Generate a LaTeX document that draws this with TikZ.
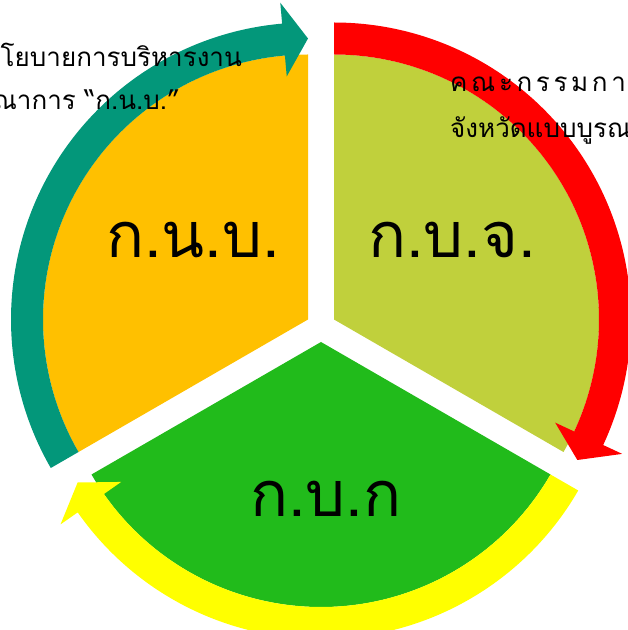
\documentclass[tikz,border=0pt]{standalone}
\usepackage{fontspec}
\newfontfamily\thaifont[Script=Thai]{Loma}
\usetikzlibrary{calc}

\definecolor{knbfill}{HTML}{FFC000}
\definecolor{kbjfill}{HTML}{C0D03C}
\definecolor{kbkfill}{HTML}{21BB1B}
\definecolor{knbarrow}{HTML}{03977A}
\definecolor{kbjarrow}{HTML}{FF0000}
\definecolor{kbkarrow}{HTML}{FFFF00}

\begin{document}
\begin{tikzpicture}[
    x=1pt, y=1pt,
    biglabel/.style={font=\thaifont\fontsize{63}{70}\selectfont, inner sep=0pt},
    note/.style={font=\thaifont\fontsize{26}{30}\selectfont, inner sep=0pt},
    spaced/.style={font=\thaifont\fontsize{26}{30}\selectfont\addfontfeature{LetterSpace=14}, inner sep=0pt}
]
    \useasboundingbox (0,0) rectangle (628,630);
    \clip (0,0) rectangle (628,630);

    % Centres of the three pieces
    \coordinate (c1) at (308,310.5);
    \coordinate (c2) at (334,310.5);
    \coordinate (c3) at (321,288);

    % Pieces
    \fill[knbfill] (c1) -- ($(c1)+(90:265)$) arc[start angle=90, end angle=210, radius=265] -- cycle;
    \fill[kbjfill] (c2) -- ($(c2)+(-30:265)$) arc[start angle=-30, end angle=90, radius=265] -- cycle;
    \fill[kbkfill] (c3) -- ($(c3)+(210:265)$) arc[start angle=210, end angle=330, radius=265] -- cycle;

    % Curved arrows
    \fill[knbarrow] ($(c1)+(210:297)$) arc[start angle=210, end angle=95, radius=297]
        -- ($(c1)+(95:318)$) -- ($(c1)+(90:281)$) -- ($(c1)+(95:244)$)
        -- ($(c1)+(95:265)$) arc[start angle=95, end angle=210, radius=265] -- cycle;
    \fill[kbjarrow] ($(c2)+(90:297)$) arc[start angle=90, end angle=-25, radius=297]
        -- ($(c2)+(-25:318)$) -- ($(c2)+(-30:281)$) -- ($(c2)+(-25:244)$)
        -- ($(c2)+(-25:265)$) arc[start angle=-25, end angle=90, radius=265] -- cycle;
    \fill[kbkarrow] ($(c3)+(-30:297)$) arc[start angle=-30, end angle=-145, radius=297]
        -- ($(c3)+(-145:318)$) -- ($(c3)+(-150:281)$) -- ($(c3)+(-145:244)$)
        -- ($(c3)+(-145:265)$) arc[start angle=-145, end angle=-30, radius=265] -- cycle;

    % Labels
    \node[biglabel, anchor=base] (knb) at (193,372) {ก.น.บ.};
    \node[biglabel, anchor=base] (kbj) at (452,372) {ก.บ.จ.};
    \node[biglabel, anchor=base] (kbk) at (326,113) {ก.บ.ก};

    % Notes
    \node[note, anchor=base east] (knbnote1) at (242,563) {นโยบายการบริหารงาน};
    \node[note, anchor=base east] (knbnote2) at (180,520) {ณาการ “ก.น.บ.”};
    \node[spaced, anchor=base west] (kbjnote1) at (450,538) {คณะกรรมการ};
    \node[note, anchor=base west] (kbjnote2) at (450,492) {จังหวัดแบบบูรณาการ};

\end{tikzpicture}
\end{document}
